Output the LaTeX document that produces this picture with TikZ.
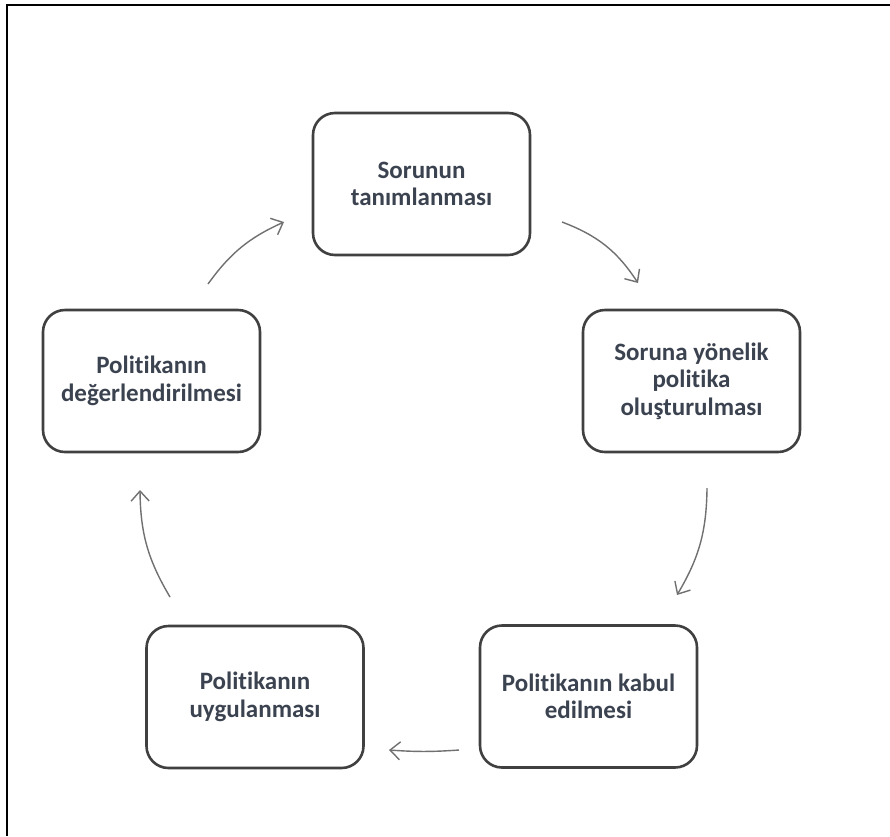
\documentclass[tikz,border=0pt]{standalone}
\usepackage{fontspec}
\setmainfont{Carlito}[Ligatures={CommonOff}]
\usetikzlibrary{arrows.meta}
\definecolor{boxline}{HTML}{404040}
\definecolor{labeltext}{HTML}{3C4350}
\definecolor{flow}{HTML}{707070}
\tikzset{
  stage/.style={draw=boxline, line width=2.6pt, rounded corners=22pt,
    minimum width=217pt, minimum height=142pt, align=center,
    text=labeltext, font=\fontsize{25}{27.5}\selectfont\bfseries, inner sep=0pt},
  flowarrow/.style={draw=flow, line width=1.4pt,
    -{Straight Barb[length=10pt, width=18pt, line width=1.4pt]}},
  frameline/.style={draw=black, line width=2pt}
}
\begin{document}
\begin{tikzpicture}[x=1pt, y=-1pt]
  \useasboundingbox (0,0) rectangle (890,836);
  \fill[white] (0,0) rectangle (890,836);

  % outer frame: only its top and left edges
  \coordinate (ftl) at (7.3,4.5);
  \coordinate (ftr) at (890,4.5);
  \coordinate (fbl) at (7.3,836);
  \draw[frameline] (ftr) -- (ftl) -- (fbl);

  % the five stages of the policy cycle
  \node[stage] (tanim)   at (421.5,184)  {Sorunun\\tanımlanması};
  \node[stage] (olustur) at (691.5,381)  {Soruna yönelik\\politika\\oluşturulması};
  \node[stage] (kabul)   at (588.5,696.5){Politikanın kabul\\edilmesi};
  \node[stage] (uygula)  at (255,697)    {Politikanın\\uygulanması};
  \node[stage] (deger)   at (151.5,381)  {Politikanın\\değerlendirilmesi};

  % arrow end points between the stages
  \coordinate (a1s) at (562,222);  \coordinate (a1e) at (638,283);
  \coordinate (a2s) at (707,488);  \coordinate (a2e) at (677,595);
  \coordinate (a3s) at (459,750);  \coordinate (a3e) at (389,750);
  \coordinate (a4s) at (170,597);  \coordinate (a4e) at (140,490);
  \coordinate (a5s) at (208,284);  \coordinate (a5e) at (284,222);

  \draw[flowarrow] (a1s) to[bend left=18] (a1e);
  \draw[flowarrow] (a2s) to[bend left=15] (a2e);
  \draw[flowarrow] (a3s) to[bend left=4]  (a3e);
  \draw[flowarrow] (a4s) to[bend left=15] (a4e);
  \draw[flowarrow] (a5s) to[bend left=15] (a5e);
\end{tikzpicture}
\end{document}
